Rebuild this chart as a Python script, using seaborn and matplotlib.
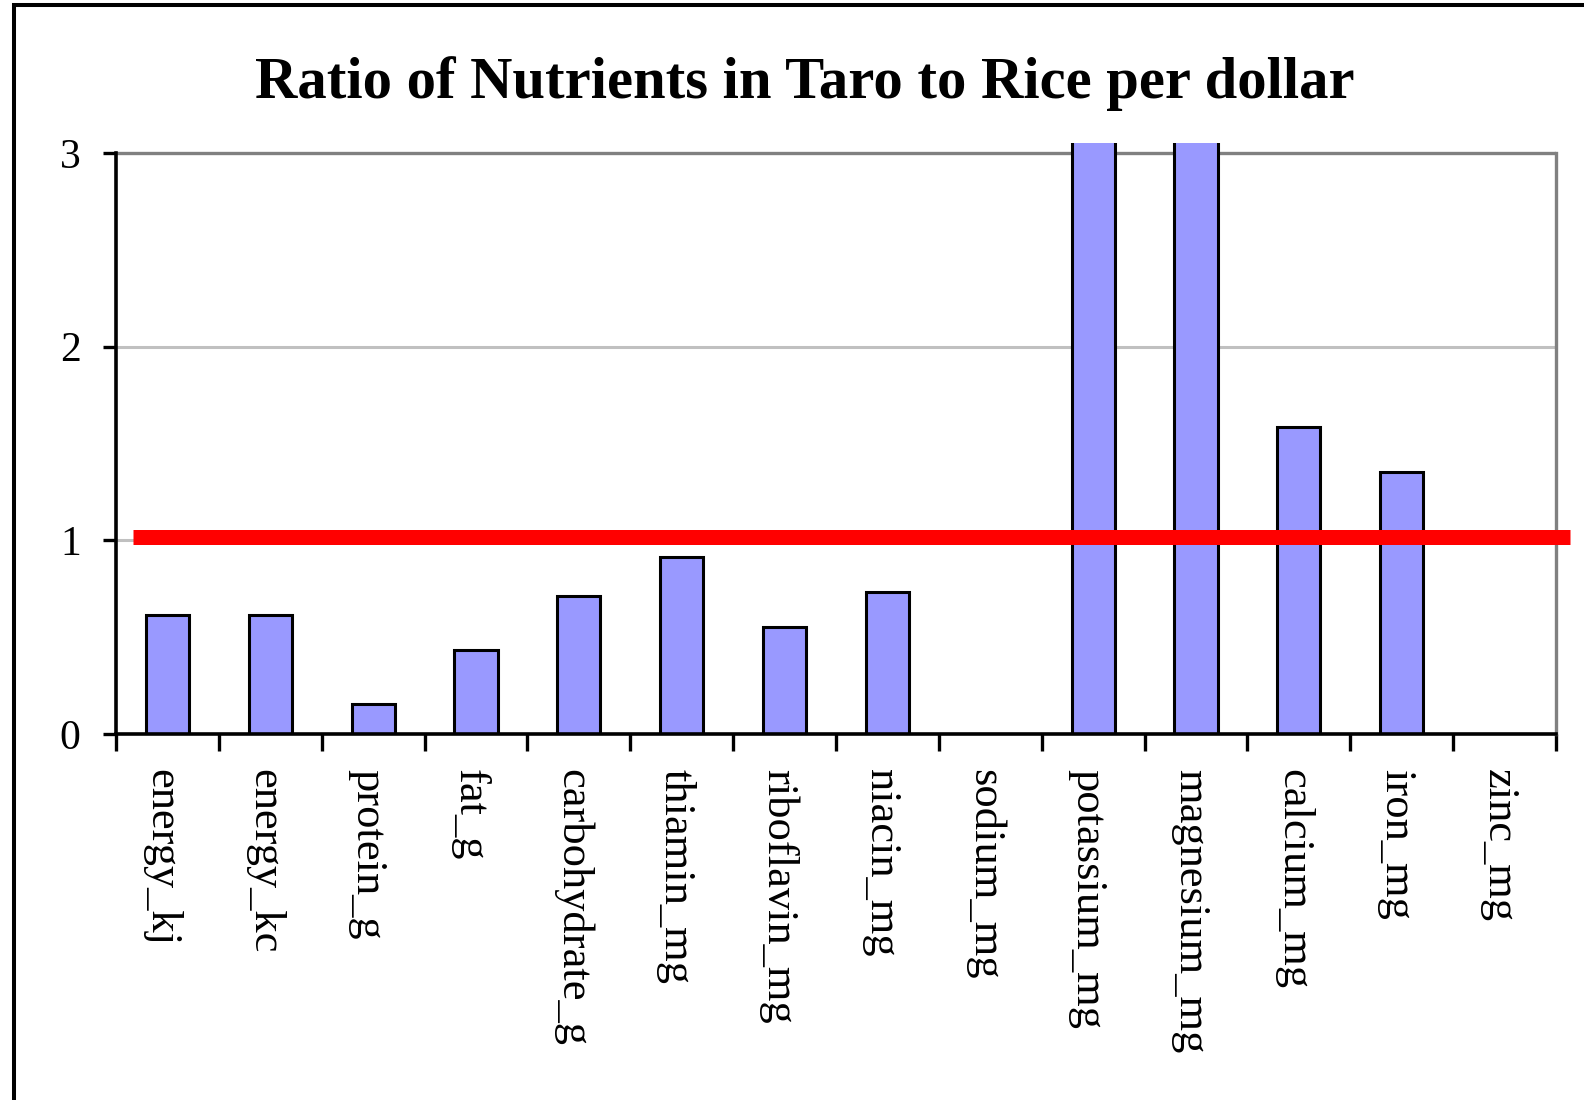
import matplotlib
matplotlib.use("Agg")
import matplotlib.pyplot as plt
import matplotlib.patches as mpatches
import matplotlib.transforms as mtransforms
import seaborn as sns
import pandas as pd

categories = ["energy_kj", "energy_kc", "protein_g", "fat_g", "carbohydrate_g",
              "thiamin_mg", "riboflavin_mg", "niacin_mg", "sodium_mg",
              "potassium_mg", "magnesium_mg", "calcium_mg", "iron_mg", "zinc_mg"]
ratios = [0.615, 0.615, 0.155, 0.435, 0.714, 0.913, 0.552, 0.735, 0.0,
          4.2, 3.9, 1.587, 1.352, 0.0]
parity_level = 1.015
y_ticks = [0, 1, 2, 3]
title = "Ratio of Nutrients in Taro to Rice per dollar"

df = pd.DataFrame({"nutrient": categories, "ratio": ratios})

sns.set_style("white")
plt.rcParams["font.family"] = ["Liberation Serif", "DejaVu Serif"]
plt.rcParams["text.color"] = "black"
plt.rcParams["xtick.color"] = "black"
plt.rcParams["ytick.color"] = "black"
plt.rcParams["xtick.labelcolor"] = "black"
plt.rcParams["ytick.labelcolor"] = "black"

W, H, DPI = 1584, 1100, 100
fig = plt.figure(figsize=(W / DPI, H / DPI), dpi=DPI)
ax = fig.add_axes([116 / W, 1 - 734 / H, 1440 / W, (734 - 143) / H])

sns.barplot(data=df, x="nutrient", y="ratio", color="#9999FF", saturation=1,
            edgecolor="black", linewidth=2.2, width=0.42, ax=ax, zorder=3)

ax.set_xlim(-0.5, len(categories) - 0.5)
ax.set_ylim(0, 3.052)

# gridlines and plot-area frame
for v in [1, 2]:
    ax.axhline(v, color="#C0C0C0", lw=2.2, zorder=1)
ax.axhline(3, color="#808080", lw=2.4, zorder=1)
ax.spines["top"].set_visible(False)
ax.spines["right"].set_color("#808080")
ax.spines["right"].set_linewidth(2.4)
ax.spines["right"].set_bounds(0, 3)
ax.spines["left"].set_color("black")
ax.spines["left"].set_linewidth(2.6)
ax.spines["left"].set_bounds(0, 3)
ax.spines["bottom"].set_color("black")
ax.spines["bottom"].set_linewidth(2.6)
ax.spines["bottom"].set_zorder(4)

# reference line at parity
ax.plot([-0.335, 13.636], [parity_level, parity_level], color="#FF0000",
        lw=10.8, solid_capstyle="butt", clip_on=False, zorder=5)

ax.set_yticks(y_ticks)
ax.set_yticklabels([str(t) for t in y_ticks], fontsize=30, color="black")
ax.tick_params(axis="y", direction="out", length=9.4, width=2.4, color="black",
               pad=16, left=True)

ax.set_xticks(range(len(categories)))
ax.set_xticklabels(categories, rotation=-90, fontsize=32, color="black")
ax.tick_params(axis="x", which="major", length=0, pad=25)
ax.set_xticks([i - 0.5 for i in range(len(categories) + 1)], minor=True)
ax.tick_params(axis="x", which="minor", direction="out", length=12, width=2.4,
               color="black", bottom=True)
shift = mtransforms.ScaledTranslation(-6 / DPI, 0, fig.dpi_scale_trans)
for lbl in ax.get_xticklabels():
    lbl.set_transform(lbl.get_transform() + shift)
ax.set_xlabel("")
ax.set_ylabel("")

fig.text(805 / W, 1 - 98 / H, title, ha="center", va="baseline",
         fontsize=42.2, fontweight="bold", color="black")

# outer chart frame
frame = mpatches.Rectangle((14 / W, -0.05), 1.2, 1 - 5.3 / H + 0.05,
                           transform=fig.transFigure, fill=False,
                           edgecolor="black", lw=2.9, clip_on=False)
fig.patches.append(frame)

fig.savefig("out.png", dpi=DPI)
